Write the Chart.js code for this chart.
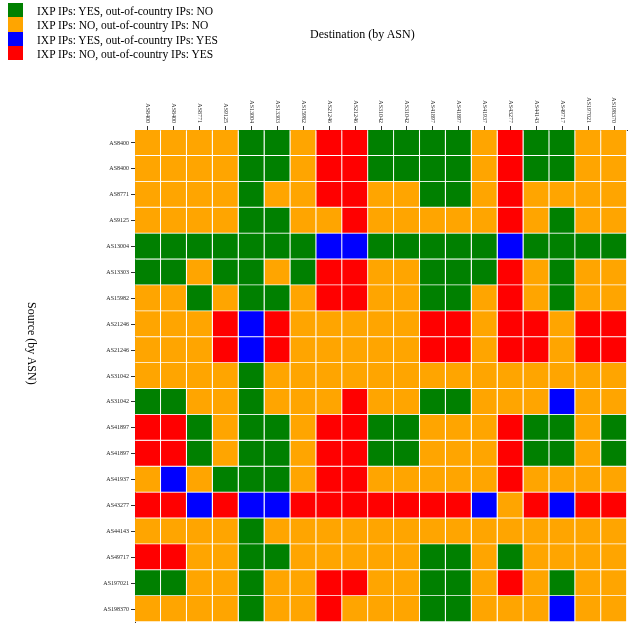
<!DOCTYPE html>
<html>
<head>
<meta charset="utf-8">
<script src="https://cdn.jsdelivr.net/npm/chart.js@4.4.0/dist/chart.umd.min.js"></script>
<style>
  body { margin: 0; background: #fff; font-family: "Liberation Serif", "Times New Roman", serif; }
  #wrap { position: relative; width: 640px; height: 640px; }
  #heat { position: absolute; left: 0; top: 0; }
  .legend { position: absolute; left: 8px; top: 3px; }
  .legend .row { position: relative; height: 14.3px; }
  .legend .sw { position: absolute; left: 0; top: 0; width: 15px; height: 14.3px; }
  .legend .txt { position: absolute; left: 29px; top: 2px; font-size: 11.5px; white-space: nowrap; color: #000; }
  .title-x { position: absolute; left: 310px; top: 27px; font-size: 12px; color: #000; }
  .title-y { position: absolute; left: 25px; top: 302px; font-size: 12px; color: #000;
             transform-origin: 0 0; transform: translateX(14px) rotate(90deg); white-space: nowrap; }
</style>
</head>
<body>
<div id="wrap">
  <canvas id="heat" width="640" height="640"></canvas>
  <div class="legend" id="legend"></div>
  <div class="title-x">Destination (by ASN)</div>
  <div class="title-y">Source (by ASN)</div>
</div>
<script>
// Source ASNs (rows) and destination ASNs (columns)
const rowLabels = ["AS8400", "AS8400", "AS8771", "AS9125", "AS13004", "AS13303", "AS15982", "AS21246", "AS21246", "AS31042",
  "AS31042", "AS41897", "AS41897", "AS41937", "AS43277", "AS44143", "AS49717", "AS197021", "AS198370"];
const colLabels = ["AS8400", "AS8400", "AS8771", "AS9125", "AS13004", "AS13303", "AS15982", "AS21246", "AS21246", "AS31042",
  "AS31042", "AS41897", "AS41897", "AS41937", "AS43277", "AS44143", "AS49717", "AS197021", "AS198370"];

// G = IXP yes / abroad no, O = no / no, B = yes / yes, R = no / yes
const categoryKeys = ["G", "O", "B", "R"];
const categoryNames = [
  "IXP IPs: YES, out-of-country IPs: NO",
  "IXP IPs: NO, out-of-country IPs: NO",
  "IXP IPs: YES, out-of-country IPs: YES",
  "IXP IPs: NO, out-of-country IPs: YES"
];
const categoryColors = ["#008000", "#ffa500", "#0000ff", "#ff0000"];

// one string per source row, one letter per destination column
const cells = [
  "OOOOGGORRGGGGORGGOO",
  "OOOOGGORRGGGGORGGOO",
  "OOOOGOORROOGGOROOOO",
  "OOOOGGOOROOOOOROGOO",
  "GGGGGGGBBGGGGGBGGGG",
  "GGOGGOGRROOGGGROGOO",
  "OOGOGGORROOGGOROGOO",
  "OOORBROOOOORRORRORR",
  "OOORBROOOOORRORRORR",
  "OOOOGOOOOOOOOOOOOOO",
  "GGOOGOOOROOGGOOOBOO",
  "RRGOGGORRGGOOORGGOG",
  "RRGOGGORRGGOOORGGOG",
  "OBOGGGORROOOOOROOOO",
  "RRBRBBRRRRRRRBORBRR",
  "OOOOGOOOOOOOOOOOOOO",
  "RROOGGOOOOOGGOGOOOO",
  "GGOOGOORROOGGOROGOO",
  "OOOOGOOROOOGGOOOBOO"
];

// legend
const legendDiv = document.getElementById("legend");
categoryNames.forEach((name, i) => {
  const row = document.createElement("div");
  row.className = "row";
  const sw = document.createElement("div");
  sw.className = "sw";
  sw.style.background = categoryColors[i];
  const txt = document.createElement("div");
  txt.className = "txt";
  txt.textContent = name;
  row.appendChild(sw);
  row.appendChild(txt);
  legendDiv.appendChild(row);
});

function colorFor(letter) {
  return categoryColors[categoryKeys.indexOf(letter)];
}

// every column is a stacked dataset, one unit wide per row
const datasets = colLabels.map((col, c) => ({
  label: col,
  data: rowLabels.map(() => 1),
  backgroundColor: rowLabels.map((_, r) => colorFor(cells[r][c])),
  borderColor: "rgba(255,255,255,0.85)",
  borderWidth: { top: 0, left: 0, right: 1.2, bottom: 1.2 },
  borderSkipped: false,
  barPercentage: 1,
  categoryPercentage: 1,
  xAxisID: "x"
}));

// column labels drawn reading top-to-bottom like the original
const topLabels = {
  id: "topLabels",
  afterDraw(chart) {
    const s = chart.scales.x2;
    const ctx = chart.ctx;
    ctx.save();
    ctx.font = '6px "Liberation Serif", serif';
    ctx.fillStyle = "#222";
    ctx.textAlign = "right";
    ctx.textBaseline = "middle";
    colLabels.forEach((lab, i) => {
      const x = s.getPixelForTick(i);
      ctx.save();
      ctx.translate(x, 123);
      ctx.rotate(Math.PI / 2);
      ctx.fillText(lab, 0, 0);
      ctx.restore();
    });
    ctx.restore();
  }
};

Chart.defaults.font.family = '"Liberation Serif", serif';

new Chart(document.getElementById("heat"), {
  type: "bar",
  data: { labels: rowLabels, datasets },
  options: {
    indexAxis: "y",
    responsive: false,
    animation: false,
    layout: { padding: { left: 0, top: 0, right: 13, bottom: 18 } },
    plugins: { legend: { display: false }, tooltip: { enabled: false } },
    scales: {
      x: { type: "linear", stacked: true, min: 0, max: colLabels.length, display: false },
      x2: {
        type: "category",
        labels: colLabels,
        position: "top",
        offset: true,
        grid: { drawOnChartArea: false, offset: false, tickLength: 4, color: "#333" },
        border: { display: true, color: "#333", width: 1 },
        ticks: { display: false },
        afterFit: (s) => { s.height = 130; }
      },
      y: {
        type: "category",
        stacked: true,
        offset: true,
        grid: { drawOnChartArea: false, offset: false, tickLength: 4, color: "#333" },
        border: { display: true, color: "#333", width: 1 },
        ticks: { font: { size: 6 }, color: "#222", padding: 2, autoSkip: false },
        afterFit: (s) => { s.width = 135; }
      }
    }
  },
  plugins: [topLabels]
});
</script>
</body>
</html>
